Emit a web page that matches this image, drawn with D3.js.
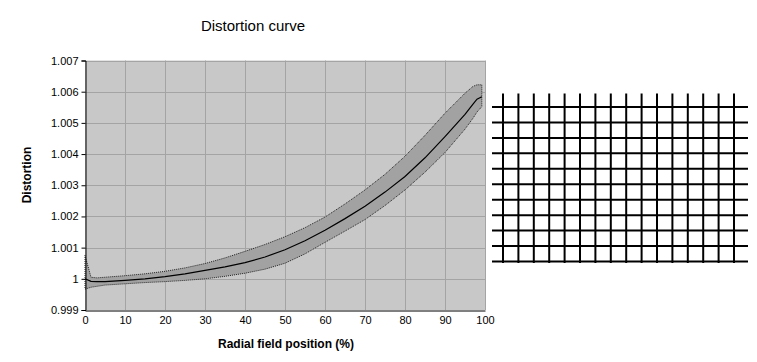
<!DOCTYPE html>
<html>
<head>
<meta charset="utf-8">
<script src="https://cdn.jsdelivr.net/npm/d3@7"></script>
<style>
  body { margin: 0; background: #fff; }
  svg { display: block; font-family: Arial, "Liberation Sans", sans-serif; }
</style>
</head>
<body>
<div id="chart"></div>
<script>
// field position (%) and distortion values
var fieldPos   = [0, 1.5, 3, 5, 10, 15, 20, 25, 30, 35, 40, 45, 50, 55, 60, 65, 70, 75, 80, 85, 90, 95, 97, 98, 99.2];
var distCenter = [1.00000, 0.99992, 0.99991, 0.99991, 0.99995, 1.00000, 1.00007, 1.00016, 1.00027, 1.00038, 1.00052, 1.00070, 1.00093, 1.00122, 1.00156, 1.00193, 1.00233, 1.00278, 1.00328, 1.00388, 1.00456, 1.00527, 1.00560, 1.00576, 1.00584];
var distUpper  = [1.00075, 1.00005, 1.00003, 1.00005, 1.00010, 1.00016, 1.00024, 1.00035, 1.00049, 1.00067, 1.00088, 1.00110, 1.00135, 1.00164, 1.00198, 1.00240, 1.00285, 1.00335, 1.00393, 1.00460, 1.00531, 1.00595, 1.00617, 1.00622, 1.00622];
var distLower  = [0.99967, 0.99973, 0.99976, 0.99980, 0.99984, 0.99988, 0.99991, 0.99995, 1.00000, 1.00008, 1.00018, 1.00031, 1.00050, 1.00080, 1.00117, 1.00153, 1.00190, 1.00235, 1.00285, 1.00342, 1.00405, 1.00480, 1.00515, 1.00535, 1.00552];

var xTicks = [0, 10, 20, 30, 40, 50, 60, 70, 80, 90, 100];
var yTicks = [0.999, 1, 1.001, 1.002, 1.003, 1.004, 1.005, 1.006, 1.007];
var yTickLabels = ["0.999", "1", "1.001", "1.002", "1.003", "1.004", "1.005", "1.006", "1.007"];

// test grid on the right: column and row indices
var gridCols = [0, 1, 2, 3, 4, 5, 6, 7, 8, 9, 10, 11, 12, 13, 14, 15];
var gridRows = [0, 1, 2, 3, 4, 5, 6, 7, 8, 9, 10];

var width = 757, height = 362;
var padding = {top: 60.5, right: 272, bottom: 52, left: 85};

var svg = d3.select("#chart")
    .append("svg")
    .attr("width", width)
    .attr("height", height);

var x = d3.scaleLinear()
    .domain([0, 100])
    .range([padding.left, width - padding.right]);
var y = d3.scaleLinear()
    .domain([0.999, 1.007])
    .range([height - padding.bottom, padding.top]);

// plot area
svg.append("rect")
    .attr("x", x(0))
    .attr("y", y(1.007))
    .attr("width", x(100) - x(0))
    .attr("height", y(0.999) - y(1.007))
    .attr("fill", "#c8c8c8");

// gridlines
svg.append("g")
    .selectAll("line")
    .data(xTicks.slice(1))
    .enter()
    .append("line")
    .attr("x1", function (d) { return Math.round(x(d)) + 0.5; })
    .attr("x2", function (d) { return Math.round(x(d)) + 0.5; })
    .attr("y1", y(0.999))
    .attr("y2", y(1.007))
    .attr("stroke", "#a4a4a4");
svg.append("g")
    .selectAll("line")
    .data(yTicks.slice(1))
    .enter()
    .append("line")
    .attr("x1", x(0))
    .attr("x2", x(100))
    .attr("y1", function (d) { return Math.round(y(d)) + 0.5; })
    .attr("y2", function (d) { return Math.round(y(d)) + 0.5; })
    .attr("stroke", "#a4a4a4");

// band between upper and lower curves
var pts = fieldPos.map(function (d, i) { return [x(d), y(distUpper[i])]; });
for (var i = fieldPos.length - 1; i >= 0; i--) {
    pts.push([x(fieldPos[i]), y(distLower[i])]);
}
svg.append("path")
    .attr("d", d3.line()(pts) + "Z")
    .attr("fill", "#a2a2a2")
    .attr("stroke", "#222")
    .attr("stroke-width", 1)
    .attr("stroke-dasharray", "1,1");

// center curve
var centerLine = d3.line()
    .x(function (d, i) { return x(fieldPos[i]); })
    .y(function (d) { return y(d); });
svg.append("path")
    .datum(distCenter)
    .attr("d", centerLine)
    .attr("fill", "none")
    .attr("stroke", "#000")
    .attr("stroke-width", 1.2);

// axes
var xAxis = d3.axisBottom(x)
    .tickValues(xTicks)
    .tickSize(0)
    .tickPadding(6);
var yAxis = d3.axisLeft(y)
    .tickValues(yTicks)
    .tickFormat(function (d, i) { return yTickLabels[i]; })
    .tickSize(4)
    .tickPadding(3);

var gx = svg.append("g")
    .attr("transform", "translate(0," + (Math.round(y(0.999)) + 0.5) + ")")
    .call(xAxis);
var gy = svg.append("g")
    .attr("transform", "translate(" + (Math.round(x(0)) + 0.5) + ",0)")
    .call(yAxis);
[gx, gy].forEach(function (g) {
    g.select(".domain").attr("stroke", "#000");
    g.selectAll(".tick line").attr("stroke", "#000");
    g.selectAll("text")
        .attr("fill", "#000")
        .style("font-size", "11px")
        .style("font-family", "Arial, 'Liberation Sans', sans-serif");
});

// titles
svg.append("text")
    .attr("x", 253)
    .attr("y", 31)
    .attr("text-anchor", "middle")
    .style("font-size", "15px")
    .text("Distortion curve");
svg.append("text")
    .attr("x", 286)
    .attr("y", 348)
    .attr("text-anchor", "middle")
    .style("font-size", "12px")
    .style("font-weight", "bold")
    .text("Radial field position (%)");
svg.append("text")
    .attr("transform", "translate(31,175) rotate(-90)")
    .attr("text-anchor", "middle")
    .style("font-size", "12px")
    .style("font-weight", "bold")
    .text("Distortion");

// grid picture on the right
var gx2 = d3.scaleLinear().domain([0, 15]).range([503, 734]);
var gy2 = d3.scaleLinear().domain([0, 10]).range([107, 261.5]);
var grid = svg.append("g").attr("stroke", "#000").attr("stroke-width", 2);
grid.selectAll("line.v")
    .data(gridCols)
    .enter()
    .append("line")
    .attr("class", "v")
    .attr("x1", function (d) { return gx2(d); })
    .attr("x2", function (d) { return gx2(d); })
    .attr("y1", gy2(0) - 13.5)
    .attr("y2", gy2(10) + 1.5);
grid.selectAll("line.h")
    .data(gridRows)
    .enter()
    .append("line")
    .attr("class", "h")
    .attr("x1", gx2(0) - 11)
    .attr("x2", gx2(15) + 14)
    .attr("y1", function (d) { return gy2(d); })
    .attr("y2", function (d) { return gy2(d); });
</script>
</body>
</html>
